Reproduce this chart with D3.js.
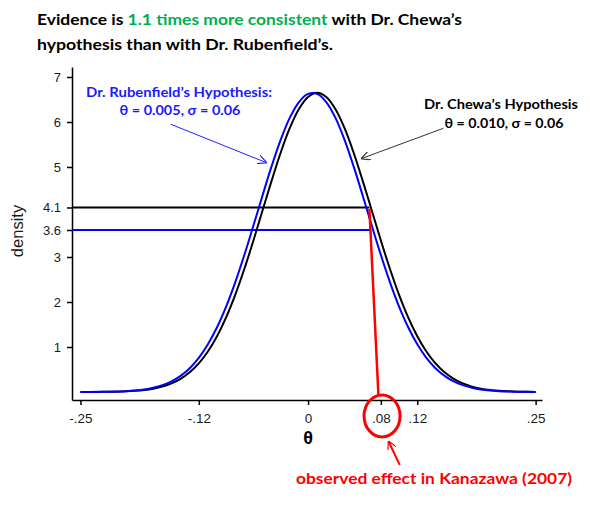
<!DOCTYPE html>
<html>
<head>
<meta charset="utf-8">
<script src="https://cdn.jsdelivr.net/npm/d3@7"></script>
<style>
  body { margin: 0; background: #fff; }
  .tick text { font-family: "Liberation Sans", Arial, sans-serif; font-size: 13px; fill: #1a1a1a; }
  .x-axis .tick text { font-size: 13.5px; }
  .note { font-family: Lato, "Open Sans", sans-serif; font-weight: bold; }
</style>
</head>
<body>
<div class="chart"></div>
<script>
var svgWidth = 590;
var svgHeight = 514;

// theta grid, -.25 to .25 in steps of .01
var thetas = d3.range(-25, 26).map(i => i / 100);

// densities
var rubenfield = [0.001, 0.001, 0.003, 0.006, 0.011, 0.019, 0.034, 0.057, 0.095, 0.152,
  0.236, 0.358, 0.529, 0.759, 1.059, 1.438, 1.898, 2.437, 3.044, 3.698,
  4.367, 5.018, 5.608, 6.096, 6.444, 6.626, 6.626, 6.444, 6.096, 5.608,
  5.018, 4.367, 3.698, 3.044, 2.437, 1.898, 1.438, 1.059, 0.759, 0.529,
  0.358, 0.236, 0.152, 0.095, 0.057, 0.034, 0.019, 0.011, 0.006, 0.003, 0.001];

var chewa = [0.001, 0.001, 0.002, 0.004, 0.008, 0.015, 0.026, 0.044, 0.074, 0.120,
  0.190, 0.292, 0.437, 0.636, 0.900, 1.239, 1.658, 2.159, 2.733, 3.366,
  4.033, 4.697, 5.323, 5.868, 6.290, 6.557, 6.649, 6.557, 6.290, 5.868,
  5.323, 4.697, 4.033, 3.366, 2.733, 2.159, 1.658, 1.239, 0.900, 0.636,
  0.437, 0.292, 0.190, 0.120, 0.074, 0.044, 0.026, 0.015, 0.008, 0.004, 0.002];

var xTicks = [-0.25, -0.12, 0, 0.08, 0.12, 0.25];
var xTickLabels = ["-.25", "-.12", "0", ".08", ".12", ".25"];
var yTicks = [1, 2, 3, 3.6, 4.1, 5, 6, 7];
var yTickLabels = ["1", "2", "3", "3.6", "4.1", "5", "6", "7"];

// evidence levels at the observed effect
var levelValues = [4.1, 3.6];
var levelEnds = [0.0674, 0.068];
var levelColors = ["#000", "#0000ff"];

var svg = d3.select(".chart")
  .append("svg")
  .attr("width", svgWidth)
  .attr("height", svgHeight);

var x = d3.scaleLinear().domain([-0.2593, 0.257]).range([72, 542]);
var y = d3.scaleLinear().domain([-0.178, 7.222]).range([400, 67]);

// arrow heads
var defs = svg.append("defs");
[["headBlue", "#2222ff"], ["headGray", "#333"], ["headRed", "#ff0000"]].forEach(function (m) {
  defs.append("marker")
    .attr("id", m[0])
    .attr("viewBox", "0 0 10 10")
    .attr("refX", 9)
    .attr("refY", 5)
    .attr("markerWidth", 9)
    .attr("markerHeight", 9)
    .attr("markerUnits", "userSpaceOnUse")
    .attr("orient", "auto")
    .append("path")
    .attr("d", "M0,0 L10,5 L0,10")
    .attr("fill", "none")
    .attr("stroke", m[1])
    .attr("stroke-width", 1.3);
});

// axes
svg.append("g")
  .attr("class", "x-axis")
  .attr("transform", `translate(0, 400)`)
  .call(d3.axisBottom(x).tickValues(xTicks)
    .tickFormat((d, i) => xTickLabels[i])
    .tickSize(5).tickSizeOuter(0).tickPadding(8))
  .call(g => g.selectAll("path, line").attr("stroke", "#000").attr("stroke-width", 1.5));

svg.append("g")
  .attr("transform", `translate(72, 0)`)
  .call(d3.axisLeft(y).tickValues(yTicks)
    .tickFormat((d, i) => yTickLabels[i])
    .tickSize(5).tickSizeOuter(0).tickPadding(6))
  .call(g => g.selectAll("path, line").attr("stroke", "#000").attr("stroke-width", 1.5));

// axis titles
svg.append("text")
  .attr("transform", "translate(23, 231) rotate(-90)")
  .attr("text-anchor", "middle")
  .style("font-family", "Liberation Sans, Arial, sans-serif")
  .style("font-size", "16.5px")
  .attr("fill", "#1a1a1a")
  .text("density");

svg.append("text")
  .attr("x", x(0))
  .attr("y", 444)
  .attr("text-anchor", "middle")
  .style("font-family", "Liberation Sans, Arial, sans-serif")
  .style("font-size", "18px")
  .style("font-weight", "bold")
  .text("θ");

// horizontal evidence lines
svg.selectAll(".level")
  .data(levelValues)
  .enter()
  .append("line")
  .attr("class", "level")
  .attr("x1", 72)
  .attr("x2", (d, i) => x(levelEnds[i]))
  .attr("y1", d => y(d))
  .attr("y2", d => y(d))
  .attr("stroke", (d, i) => levelColors[i])
  .attr("stroke-width", 2);

// density curves
var line = d3.line()
  .x((d, i) => x(thetas[i]))
  .y(d => y(d))
  .curve(d3.curveCatmullRom);

svg.append("path")
  .datum(chewa)
  .attr("d", line)
  .attr("fill", "none")
  .attr("stroke", "#000")
  .attr("stroke-width", 2);

svg.append("path")
  .datum(rubenfield)
  .attr("d", line)
  .attr("fill", "none")
  .attr("stroke", "#0000ff")
  .attr("stroke-width", 2);

// red drop line, circle and arrow
svg.append("line")
  .attr("x1", x(0.0674)).attr("y1", y(4.07))
  .attr("x2", x(0.0773)).attr("y2", y(-0.067))
  .attr("stroke", "#ff0000")
  .attr("stroke-width", 2.5);

svg.append("ellipse")
  .attr("cx", x(0.0813)).attr("cy", y(-0.533))
  .attr("rx", 18).attr("ry", 21)
  .attr("fill", "none")
  .attr("stroke", "#ff0000")
  .attr("stroke-width", 3);

svg.append("line")
  .attr("x1", x(0.1007)).attr("y1", y(-1.62))
  .attr("x2", x(0.0885)).attr("y2", y(-1.10))
  .attr("stroke", "#ff0000")
  .attr("stroke-width", 2)
  .attr("marker-end", "url(#headRed)");

// annotation arrows
svg.append("line")
  .attr("x1", x(-0.1509)).attr("y1", y(5.95))
  .attr("x2", x(-0.0462)).attr("y2", y(5.10))
  .attr("stroke", "#2222ff")
  .attr("stroke-width", 1)
  .attr("marker-end", "url(#headBlue)");

svg.append("line")
  .attr("x1", x(0.1487)).attr("y1", y(5.86))
  .attr("x2", x(0.059)).attr("y2", y(5.19))
  .attr("stroke", "#333")
  .attr("stroke-width", 1)
  .attr("marker-end", "url(#headGray)");

// text helper: anchored text squeezed to a measured width
function note(px, py, width, size, color, parts, anchor) {
  var t = svg.append("text")
    .attr("class", "note")
    .attr("x", px)
    .attr("y", py)
    .attr("text-anchor", anchor || "start")
    .attr("textLength", width)
    .attr("lengthAdjust", "spacingAndGlyphs")
    .style("font-size", size + "px")
    .attr("fill", color);
  parts.forEach(function (p) {
    t.append("tspan").attr("fill", p[1] || color).text(p[0]);
  });
  return t;
}

// title
note(37, 25, 425, 16, "#000", [["Evidence is "], ["1.1 times more consistent", "#00b050"], [" with Dr. Chewa’s"]]);
note(37, 50, 296, 16, "#000", [["hypothesis than with Dr. Rubenfield’s."]]);

// hypothesis labels
note(179, 97, 186, 13.5, "#1a1aff", [["Dr. Rubenfield’s Hypothesis:"]], "middle");
note(180, 115, 121, 13.5, "#1a1aff", [["θ = 0.005, σ = 0.06"]], "middle");
note(501, 109, 154, 13.5, "#000", [["Dr. Chewa’s Hypothesis"]], "middle");
note(504, 128, 119, 13.5, "#000", [["θ = 0.010, σ = 0.06"]], "middle");

// observed effect label
note(296, 484, 276, 16, "#ff0000", [["observed effect in Kanazawa (2007)"]]);
</script>
</body>
</html>
